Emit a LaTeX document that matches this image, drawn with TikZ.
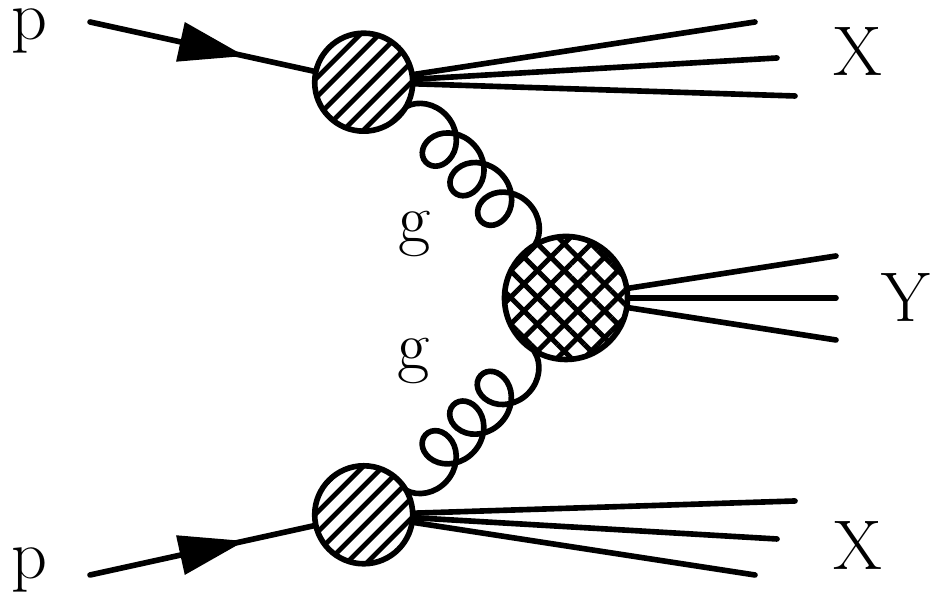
\documentclass[tikz,border=0pt]{standalone}
\usepackage{fontspec}
\usetikzlibrary{calc, arrows.meta, decorations.pathmorphing, decorations.markings, patterns.meta}

\tikzset{
  leg/.style={line width=1.6pt, line cap=round},
  fermion/.style={leg, postaction={decorate},
    decoration={markings, mark=at position 0.566 with {\arrow{Triangle[length=0.66cm, width=0.39cm]}}}},
  gluon/.style={line width=1.6pt, decorate,
    decoration={coil, amplitude=0.235cm, segment length=0.405cm, aspect=1}},
  blob/.style={circle, draw, line width=1.6pt, inner sep=0pt, preaction={fill=white}},
  lbl/.style={anchor=base, inner sep=0pt, font=\fontsize{20}{24}\selectfont}
}

\begin{document}
\begin{tikzpicture}
	\useasboundingbox (0,0) rectangle (9.32,5.93);
	% vertices
	\coordinate (ub) at (3.637,5.108);
	\coordinate (lb) at (3.637,0.782);
	\coordinate (cb) at (5.66,2.95);
	% incoming protons
	\coordinate (pu) at (0.90,5.71);
	\coordinate (pl) at (0.90,0.18);
	\draw[fermion] (pu) -- (ub);
	\draw[fermion] (pl) -- (lb);
	% remnants X
	\foreach \i/\x/\y in {1/7.55/5.71, 2/7.77/5.35, 3/7.95/4.97}{
		\coordinate (xu\i) at (\x,\y);
		\coordinate (xl\i) at (\x,5.89-\y);
		\draw[leg] (ub) -- (xu\i);
		\draw[leg] (lb) -- (xl\i);
	}
	% products Y
	\foreach \i/\y in {1/3.37, 2/2.95, 3/2.53}{
		\coordinate (yo\i) at (8.36,\y);
		\draw[leg] (cb) -- (yo\i);
	}
	% gluons (last straight bit hidden under the Y blob)
	\coordinate (gu1) at ($(ub)+(-30:0.49)$);
	\coordinate (ge1) at ($(cb)+(120:0.615)$);
	\coordinate (gu2) at ($(gu1)!1.107!(ge1)$);
	\coordinate (gl1) at ($(lb)+(30:0.49)$);
	\coordinate (ge2) at ($(cb)+(-120:0.615)$);
	\coordinate (gl2) at ($(gl1)!1.107!(ge2)$);
	\draw[gluon] (gu1) -- (gu2);
	\draw[gluon, decoration={mirror}] (gl1) -- (gl2);
	% blobs
	\node[blob, minimum size=0.98cm, pattern={Lines[angle=45, distance=0.14cm, line width=0.05cm]}] (ubl) at (ub) {};
	\node[blob, minimum size=0.98cm, pattern={Lines[angle=45, distance=0.14cm, line width=0.05cm]}] (lbl) at (lb) {};
	\node[blob, minimum size=1.23cm, pattern={Hatch[angle=45, distance=0.19cm, line width=0.05cm]}] (cbl) at (cb) {};
	% labels
	\node[lbl] (p1) at (0.295,5.53) {p};
	\node[lbl] (p2) at (0.295,0.146) {p};
	\node[lbl] (x1) at (8.58,5.17) {X};
	\node[lbl] (x2) at (8.58,0.23) {X};
	\node[lbl] (y1) at (9.06,2.71) {Y};
	\node[lbl] (g1) at (4.15,3.50) {g};
	\node[lbl] (g2) at (4.14,2.23) {g};
\end{tikzpicture}
\end{document}
